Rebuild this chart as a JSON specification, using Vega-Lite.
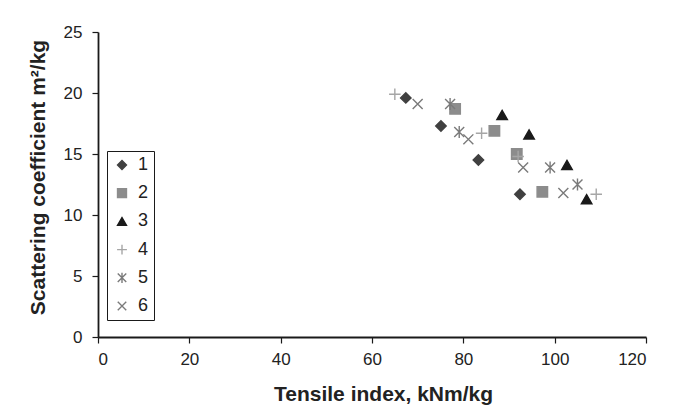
{
  "$schema": "https://vega.github.io/schema/vega-lite/v6.json",
  "autosize": {"type": "none"},
  "width": 548,
  "height": 305,
  "padding": {"left": 98, "top": 32, "right": 39, "bottom": 68},
  "background": "white",
  "config": {
    "font": "Liberation Sans",
    "view": {"stroke": null},
    "axis": {
      "grid": false,
      "domainColor": "#1a1a1a",
      "domainWidth": 1.8,
      "tickColor": "#1a1a1a",
      "tickWidth": 1.2,
      "tickSize": 6,
      "labelFont": "Liberation Sans",
      "labelFontSize": 17,
      "labelColor": "#222222",
      "titleFont": "Liberation Sans",
      "titleFontSize": 21,
      "titleFontWeight": "bold",
      "titleColor": "#222222"
    },
    "legend": {
      "orient": "none",
      "legendX": 9,
      "legendY": 119,
      "padding": 5,
      "strokeColor": "#1a1a1a",
      "fillColor": "white",
      "symbolSize": 80,
      "symbolStrokeWidth": 1.4,
      "symbolOffset": 1,
      "labelFontSize": 18,
      "labelFont": "Liberation Sans",
      "labelColor": "#222222",
      "labelOffset": 7,
      "rowPadding": 10.2
    }
  },
  "data": {
    "values": [
      {"series": "1", "tensile": 67.4, "scattering": 19.6},
      {"series": "1", "tensile": 75.1, "scattering": 17.3},
      {"series": "1", "tensile": 83.3, "scattering": 14.5},
      {"series": "1", "tensile": 92.4, "scattering": 11.7},
      {"series": "2", "tensile": 78.2, "scattering": 18.7},
      {"series": "2", "tensile": 86.8, "scattering": 16.9},
      {"series": "2", "tensile": 91.7, "scattering": 15.0},
      {"series": "2", "tensile": 97.3, "scattering": 11.9},
      {"series": "3", "tensile": 88.5, "scattering": 18.2},
      {"series": "3", "tensile": 94.4, "scattering": 16.6},
      {"series": "3", "tensile": 102.7, "scattering": 14.1},
      {"series": "3", "tensile": 107.0, "scattering": 11.3},
      {"series": "4", "tensile": 65.0, "scattering": 19.9},
      {"series": "4", "tensile": 84.0, "scattering": 16.7},
      {"series": "4", "tensile": 92.0, "scattering": 14.8},
      {"series": "4", "tensile": 109.1, "scattering": 11.7},
      {"series": "5", "tensile": 77.1, "scattering": 19.1},
      {"series": "5", "tensile": 79.1, "scattering": 16.8},
      {"series": "5", "tensile": 99.0, "scattering": 13.9},
      {"series": "5", "tensile": 105.0, "scattering": 12.5},
      {"series": "6", "tensile": 70.0, "scattering": 19.1},
      {"series": "6", "tensile": 81.1, "scattering": 16.2},
      {"series": "6", "tensile": 93.1, "scattering": 13.9},
      {"series": "6", "tensile": 101.9, "scattering": 11.8}
    ]
  },
  "mark": {"type": "point", "size": 110, "strokeWidth": 1.4, "opacity": 1},
  "encoding": {
    "x": {
      "field": "tensile",
      "type": "quantitative",
      "scale": {"domain": [0, 120], "nice": false, "zero": false},
      "axis": {
        "title": "Tensile index, kNm/kg",
        "values": [0, 20, 40, 60, 80, 100, 120],
        "labelPadding": 8,
        "titleX": 285,
        "titleY": 63,
        "titleAlign": "center",
        "titleBaseline": "alphabetic"
      }
    },
    "y": {
      "field": "scattering",
      "type": "quantitative",
      "scale": {"domain": [0, 25], "nice": false, "zero": false},
      "axis": {
        "title": "Scattering coefficient m²/kg",
        "values": [0, 5, 10, 15, 20, 25],
        "labelPadding": 10,
        "titleAngle": -90,
        "titleX": -54,
        "titleY": 145,
        "titleAlign": "center",
        "titleBaseline": "alphabetic"
      }
    },
    "shape": {
      "field": "series",
      "type": "nominal",
      "title": null,
      "scale": {
        "domain": ["1", "2", "3", "4", "5", "6"],
        "range": [
          "diamond",
          "square",
          "triangle-up",
          "M-1.1,0L1.1,0M0,-1.1L0,1.1",
          "M0,-1.15L0,1.15M-0.95,-0.95L0.95,0.95M-0.95,0.95L0.95,-0.95",
          "M-0.95,-0.95L0.95,0.95M-0.95,0.95L0.95,-0.95"
        ]
      }
    },
    "stroke": {
      "field": "series",
      "type": "nominal",
      "title": null,
      "scale": {
        "domain": ["1", "2", "3", "4", "5", "6"],
        "range": ["#404040", "#8c8c8c", "#1a1a1a", "#a6a6a6", "#7a7a7a", "#7a7a7a"]
      }
    },
    "fill": {
      "field": "series",
      "type": "nominal",
      "title": null,
      "scale": {
        "domain": ["1", "2", "3", "4", "5", "6"],
        "range": ["#404040", "#8c8c8c", "#1a1a1a", "transparent", "transparent", "transparent"]
      }
    }
  }
}
